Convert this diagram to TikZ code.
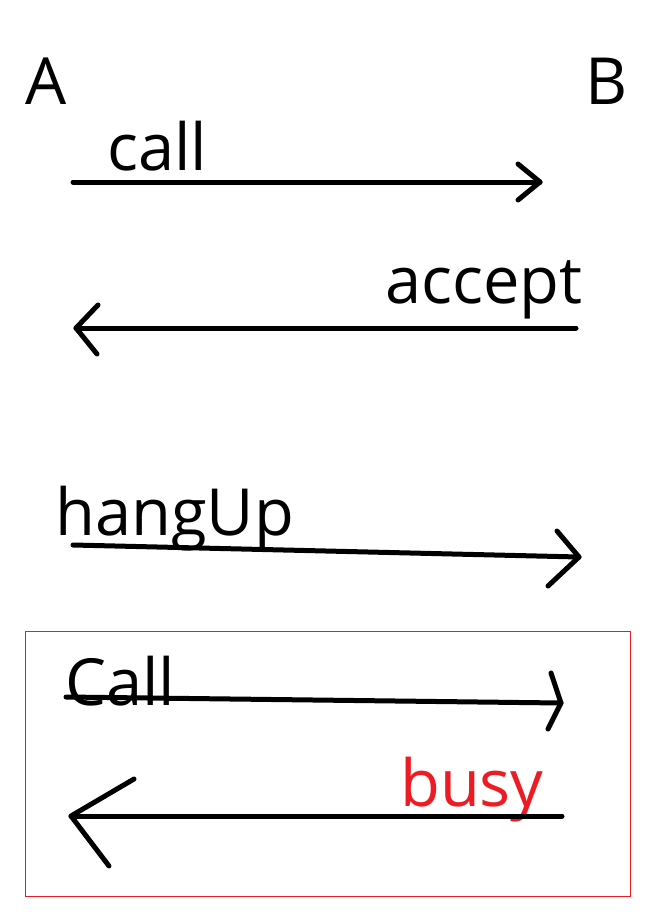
\documentclass[tikz,border=0pt]{standalone}
\usepackage{fontspec}
\setmainfont{Open Sans}
\definecolor{paintred}{RGB}{237,28,36}
\begin{document}
\begin{tikzpicture}[x=1pt,y=-1pt,
  lbl/.style={anchor=base west,inner sep=0pt,font=\fontsize{65}{65}\selectfont},
  stroke/.style={line width=5pt,line cap=round,line join=round,black}]
\useasboundingbox[fill=white] (0,0) rectangle (650,916);
% labels
\node[lbl] (A) at (25,104) {A};
\node[lbl] (B) at (585,104) {B};
\node[lbl] (tcall) at (107,170) {call};
\node[lbl] (taccept) at (385,303) {accept};
\node[lbl] (thang) at (55,535) {hangUp};
\node[lbl] (tCall) at (65,705) {Call};
\node[lbl,text=paintred] (tbusy) at (400,806) {busy};
% red box
\draw[paintred,line width=1pt] (25,631) rectangle (630,896);
% coordinates
\coordinate (s1) at (73,182); \coordinate (e1) at (540,182);
\coordinate (h1a) at (518,164); \coordinate (h1b) at (518,200);
\coordinate (s2) at (576,328); \coordinate (e2) at (76,328);
\coordinate (h2a) at (98,305); \coordinate (h2b) at (97,354);
\coordinate (s3) at (73,545); \coordinate (e3) at (579,557);
\coordinate (h3a) at (557,531); \coordinate (h3b) at (548,586);
\coordinate (s4) at (66,697); \coordinate (e4) at (561,703);
\coordinate (h4a) at (551,673); \coordinate (h4b) at (548,729);
\coordinate (s5) at (562,816); \coordinate (e5) at (71,816);
\coordinate (h5a) at (134,779); \coordinate (h5b) at (109,866);
% arrows
\draw[stroke] (s1) -- (e1); \draw[stroke] (h1a) -- (e1) -- (h1b);
\draw[stroke] (s2) -- (e2); \draw[stroke] (h2a) -- (e2) -- (h2b);
\draw[stroke] (s3) -- (e3); \draw[stroke] (h3a) -- (e3) -- (h3b);
\draw[stroke] (s4) -- (e4); \draw[stroke] (h4a) -- (e4) -- (h4b);
\draw[stroke] (s5) -- (e5); \draw[stroke] (h5a) -- (e5) -- (h5b);
\end{tikzpicture}
\end{document}
